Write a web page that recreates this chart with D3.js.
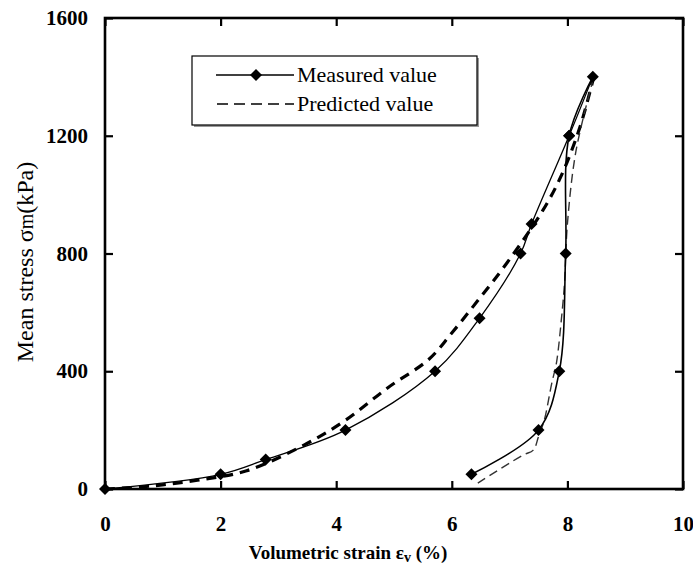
<!DOCTYPE html>
<html>
<head>
<meta charset="utf-8">
<script src="https://cdn.jsdelivr.net/npm/d3@7"></script>
<style>
  body { margin: 0; background: #fff; }
  svg { display: block; font-family: "Liberation Serif", "Times New Roman", serif; }
</style>
</head>
<body>
<svg id="chart" width="693" height="571"></svg>
<script>
// measured values (loading branch, then unloading branch)
var measLoadX = [0, 2.0, 2.78, 4.16, 5.71, 6.48, 7.19, 7.38, 8.03, 8.44];
var measLoadY = [0, 50, 100, 200, 400, 580, 800, 900, 1200, 1400];
var measUnloadX = [8.44, 8.03, 7.97, 7.86, 7.5, 6.34];
var measUnloadY = [1400, 1200, 800, 400, 200, 50];

// predicted values
var predLoadX = [0, 0.8, 1.6, 2.45, 3.45, 4.15, 4.9, 5.6, 6.0, 6.45, 6.95, 7.58, 7.9, 8.22, 8.45];
var predLoadY = [0, 10, 30, 62, 150, 232, 345, 440, 530, 640, 767, 948, 1067, 1231, 1395];
var predUnloadX = [8.45, 8.15, 8.0, 7.95, 7.9, 7.81, 7.73, 7.6, 7.5, 7.41, 7.23, 6.45];
var predUnloadY = [1395, 1150, 900, 700, 585, 428, 360, 234, 178, 132, 115, 20];

var xTicks = [0, 2, 4, 6, 8, 10];
var yTicks = [0, 400, 800, 1200, 1600];

var svg = d3.select('#chart');
var plot = {left: 105, right: 683, top: 18, bottom: 489};

var x = d3.scaleLinear().domain([0, 10]).range([plot.left, plot.right]);
var y = d3.scaleLinear().domain([0, 1600]).range([plot.bottom, plot.top]);

var zip = function(xs, ys){ return xs.map(function(v, i){ return [v, ys[i]]; }); };

// axes, ticks pointing inward
var styleAxis = function(g){
  g.select('.domain').remove();
  g.selectAll('.tick line').attr('stroke', '#000').attr('stroke-width', 2.2);
  g.selectAll('.tick text').attr('fill', '#000').style('font-size', '21px').style('font-weight', 'bold')
    .style('font-family', '"Liberation Serif", "Times New Roman", serif');
};

svg.append('g').attr('transform', 'translate(0,' + plot.bottom + ')')
  .call(d3.axisBottom(x).tickValues(xTicks).tickSize(-8).tickPadding(27).tickFormat(d3.format('d')))
  .call(styleAxis);
svg.append('g').attr('transform', 'translate(0,' + plot.top + ')')
  .call(d3.axisTop(x).tickValues(xTicks).tickSize(-8).tickFormat(''))
  .call(styleAxis);
svg.append('g').attr('transform', 'translate(' + plot.left + ',0)')
  .call(d3.axisLeft(y).tickValues(yTicks).tickSize(-8).tickPadding(17).tickFormat(d3.format('d')))
  .call(styleAxis);
svg.append('g').attr('transform', 'translate(' + plot.right + ',0)')
  .call(d3.axisRight(y).tickValues(yTicks).tickSize(-8).tickFormat(''))
  .call(styleAxis);

svg.append('rect')
  .attr('x', plot.left).attr('y', plot.top)
  .attr('width', plot.right - plot.left).attr('height', plot.bottom - plot.top)
  .attr('fill', 'none').attr('stroke', '#000').attr('stroke-width', 2.6);

var line = d3.line()
  .x(function(d){ return x(d[0]); })
  .y(function(d){ return y(d[1]); })
  .curve(d3.curveCatmullRom.alpha(0.5));

// predicted curves
svg.append('path').attr('d', line(zip(predLoadX, predLoadY)))
  .attr('fill', 'none').attr('stroke', '#000').attr('stroke-width', 3.2)
  .attr('stroke-dasharray', '10,7');
svg.append('path').attr('d', line(zip(predUnloadX, predUnloadY)))
  .attr('fill', 'none').attr('stroke', '#333').attr('stroke-width', 1.4)
  .attr('stroke-dasharray', '9,5');

// measured curves
svg.append('path').attr('d', line(zip(measLoadX, measLoadY)))
  .attr('fill', 'none').attr('stroke', '#000').attr('stroke-width', 1.3);
svg.append('path').attr('d', line(zip(measUnloadX, measUnloadY)))
  .attr('fill', 'none').attr('stroke', '#000').attr('stroke-width', 1.6);

var diamond = d3.symbol().type(d3.symbolSquare).size(72);
var measPts = zip(measLoadX, measLoadY).concat(zip(measUnloadX.slice(1), measUnloadY.slice(1)));
svg.append('g').selectAll('path').data(measPts).enter().append('path')
  .attr('d', diamond)
  .attr('transform', function(d){ return 'translate(' + x(d[0]) + ',' + y(d[1]) + ') rotate(45)'; })
  .attr('fill', '#000');

// legend
var legend = svg.append('g');
legend.append('rect').attr('x', 194).attr('y', 58).attr('width', 285).attr('height', 69).attr('fill', '#999');
legend.append('rect').attr('x', 192).attr('y', 56).attr('width', 285).attr('height', 69)
  .attr('fill', '#fff').attr('stroke', '#000').attr('stroke-width', 1.2);
legend.append('line').attr('x1', 216).attr('x2', 294).attr('y1', 75).attr('y2', 75)
  .attr('stroke', '#000').attr('stroke-width', 1.5);
legend.append('path').attr('d', diamond)
  .attr('transform', 'translate(256,75) rotate(45)').attr('fill', '#000');
legend.append('line').attr('x1', 217).attr('x2', 294).attr('y1', 104).attr('y2', 104)
  .attr('stroke', '#000').attr('stroke-width', 1.5).attr('stroke-dasharray', '11,6');
legend.append('text').attr('x', 297).attr('y', 82).style('font-size', '22px').text('Measured value');
legend.append('text').attr('x', 297).attr('y', 111).style('font-size', '22px').text('Predicted value');

// axis titles
var xt = svg.append('text').attr('x', 348).attr('y', 559).attr('text-anchor', 'middle')
  .style('font-size', '19px').style('font-weight', 'bold');
xt.append('tspan').text('Volumetric strain ε');
xt.append('tspan').attr('dy', 3).style('font-size', '14px').text('v');
xt.append('tspan').attr('dy', -3).text(' (%)');

var yt = svg.append('text').attr('transform', 'translate(33,262) rotate(-90)').attr('text-anchor', 'middle')
  .style('font-size', '24px');
yt.append('tspan').text('Mean stress σ');
yt.append('tspan').style('font-size', '20px').text('m');
yt.append('tspan').text('(kPa)');
</script>
</body>
</html>
